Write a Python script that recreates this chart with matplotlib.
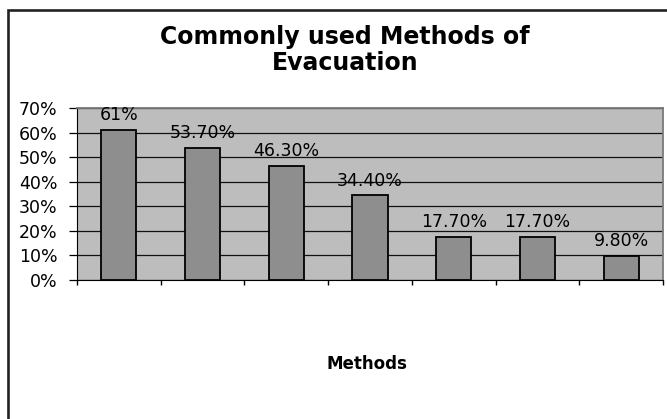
import numpy as np
import matplotlib.pyplot as plt
from matplotlib.patches import Rectangle

plt.rcParams['font.family'] = ['DejaVu Sans']

# usage share of each evacuation method (percent)
values = [61.0, 53.7, 46.3, 34.4, 17.7, 17.7, 9.8]
labels = ['61%', '53.70%', '46.30%', '34.40%', '17.70%', '17.70%', '9.80%']
yticks = [0, 10, 20, 30, 40, 50, 60, 70]

fig = plt.figure(figsize=(6.67, 4.19), dpi=100)
fig.patch.set_facecolor('white')

# chart frame, running off the right and bottom edges
frame = Rectangle((8.3 / 667, -0.05), 1.0, 1 - 10.3 / 419 + 0.05,
                  transform=fig.transFigure, fill=False,
                  edgecolor='#222222', linewidth=1.9)
fig.patches.append(frame)

ax = fig.add_axes([77 / 667, 1 - 280 / 419, (663 - 77) / 667, (280 - 108) / 419])
ax.set_facecolor('#bdbdbd')

x = np.arange(len(values))
ax.bar(x, values, width=0.42, color='#8e8e8e', edgecolor='black',
       linewidth=1.3, zorder=3)

for xi, v, lab in zip(x, values, labels):
    ax.text(xi, v + 4.0, lab, ha='center', va='baseline', fontsize=12.5,
            color='black', zorder=4)

ax.set_xlim(-0.5, len(values) - 0.5)
ax.set_ylim(0, 70)
ax.set_yticks(yticks)
ax.set_yticklabels([f'{t}%' for t in yticks], fontsize=12.5)
ax.yaxis.grid(True, color='#111111', linewidth=0.9, zorder=1)
ax.set_axisbelow(True)

ax.set_xticks(np.arange(len(values) + 1) - 0.5)
ax.set_xticklabels([''] * (len(values) + 1))
ax.tick_params(axis='x', direction='out', length=3.5, width=1, color='black')
ax.tick_params(axis='y', direction='out', length=6, width=0.9, color='black', pad=8)

for side in ['top', 'right']:
    ax.spines[side].set_color('#7a7a7a')
    ax.spines[side].set_linewidth(1.3)
ax.spines['left'].set_color('black')
ax.spines['bottom'].set_color('black')

fig.text(345 / 667, 1 - 50 / 419, 'Commonly used Methods of\nEvacuation',
         ha='center', va='center', fontsize=17, fontweight='bold',
         linespacing=1.08)
fig.text(367 / 667, 1 - 364 / 419, 'Methods', ha='center', va='center',
         fontsize=12, fontweight='bold')

fig.savefig('out.png', dpi=100)
